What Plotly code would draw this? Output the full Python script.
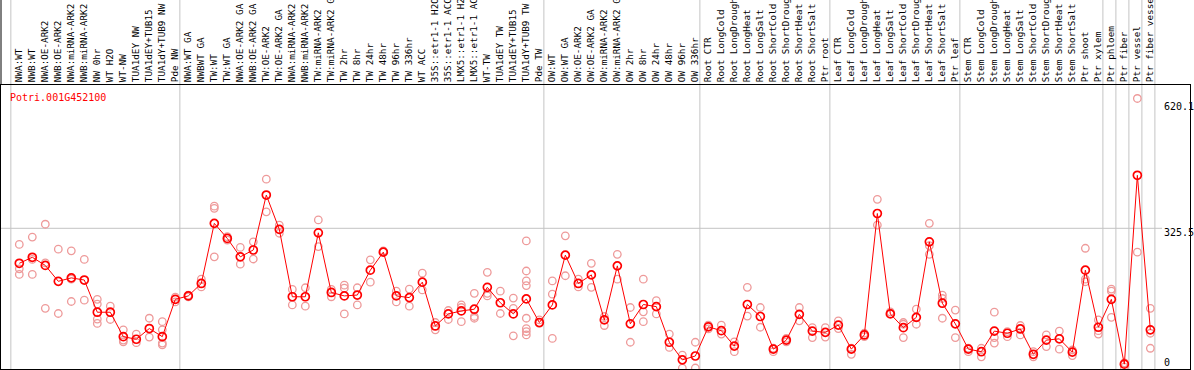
import plotly.graph_objects as go

gene = "Potri.001G452100"

labels = [
    "NWA:WT", "NWB:WT", "NWA:OE-ARK2", "NWB:OE-ARK2", "NWA:miRNA-ARK2", "NWB:miRNA-ARK2",
    "NW 0hr", "WT H2O", "WT-NW", "TUA1dEY NW", "TUA1dEY+TUB15", "TUA1dY+TUB9 NW", "Pde NW",
    "NWA:WT GA", "NWBWT GA", "TW:WT", "TW:WT GA", "NWA:OE-ARK2 GA", "NWB:OE-ARK2 GA",
    "TW:OE-ARK2", "TW:OE-ARK2 GA", "NWA:miRNA-ARK2", "NWB:miRNA-ARK2", "TW:miRNA-ARK2",
    "TW:miRNA-ARK2 GA", "TW 2hr", "TW 8hr", "TW 24hr", "TW 48hr", "TW 96hr", "TW 336hr",
    "WT ACC", "35S::etr1-1 H2O", "35S::etr1-1 ACC", "LMX5::etr1-1 H2O", "LMX5::etr1-1 ACC",
    "WT-TW", "TUA1dEY TW", "TUA1dEY+TUB15", "TUA1dY+TUB9 TW", "Pde TW",
    "OW:WT", "OW:WT GA", "OW:OE-ARK2", "OW:OE-ARK2 GA", "OW:miRNA-ARK2", "OW:miRNA-ARK2 GA",
    "OW 2hr", "OW 8hr", "OW 24hr", "OW 48hr", "OW 96hr", "OW 336hr",
    "Root CTR", "Root LongCold", "Root LongDrought", "Root LongHeat", "Root LongSalt",
    "Root ShortCold", "Root ShortDrought", "Root ShortHeat", "Root ShortSalt", "Ptr root",
    "Leaf CTR", "Leaf LongCold", "Leaf LongDrought", "Leaf LongHeat", "Leaf LongSalt",
    "Leaf ShortCold", "Leaf ShortDrought", "Leaf ShortHeat", "Leaf ShortSalt", "Ptr leaf",
    "Stem CTR", "Stem LongCold", "Stem LongDrought", "Stem LongHeat", "Stem LongSalt",
    "Stem ShortCold", "Stem ShortDrought", "Stem ShortHeat", "Stem ShortSalt", "Ptr shoot",
    "Ptr xylem", "Ptr phloem", "Ptr fiber", "Ptr vessel", "Ptr fiber vessel",
]

means = [
    244, 258, 239, 202, 210, 205, 130, 130, 73, 67, 92, 73, 160,
    168, 197, 337, 302, 259, 275, 403, 323, 166, 166, 315, 176, 168, 170,
    228, 270, 168, 164, 200, 98, 126, 133, 137, 188, 152, 126, 161, 106,
    147, 263, 197, 217, 112, 238, 103, 148, 143, 60, 19, 28,
    96, 87, 51, 148, 120, 44, 65, 125, 86, 83,
    100, 44, 77, 360, 126, 94, 118, 294, 151, 103,
    44, 38, 86, 81, 91, 32, 65, 68, 37, 228, 95,
    160, 9, 449, 89,
]

reps = [
    [288, 231, 218], [305, 253, 218], [335, 245, 139], [277, 127], [273, 207, 155],
    [253, 158], [160, 149, 114, 104], [144, 113], [89, 65, 61], [79, 59],
    [116, 72], [108, 89, 58, 54], [165, 154],
    [170, 166], [207, 189], [377, 372, 259], [306, 298], [281, 242], [294, 254],
    [440, 364], [333, 314], [183, 147], [187, 144], [345, 283], [183, 166],
    [193, 186, 126], [187, 147], [252, 200], [273, 271], [179, 154], [184, 144],
    [221, 182], [106, 89], [134, 113], [147, 141, 108], [174, 120, 116],
    [223, 174, 168], [179, 127], [163, 139, 75],
    [296, 226, 203, 192, 116, 92, 85, 77], [112, 104],
    [203, 172, 69], [308, 215], [207, 189], [244, 188], [120, 99], [265, 207],
    [141, 60], [207, 131, 108], [157, 126], [79, 48], [30, 0], [60, 0],
    [100, 91], [100, 79], [61, 38], [188, 121], [141, 95], [46, 38], [69, 61],
    [141, 110], [94, 71], [94, 72],
    [110, 92], [46, 32], [81, 73], [393, 333], [131, 127], [106, 102, 71],
    [137, 102], [337, 285, 265], [170, 162, 116], [135, 71],
    [46, 38], [46, 26], [130, 71, 58], [85, 73], [99, 77], [38, 26], [77, 50],
    [86, 44], [42, 29], [279, 207, 201], [112, 87, 79],
    [184, 179, 118], [2, 12], [628, 270], [139, 81, 46],
]

group_breaks = [0, 13, 41, 53, 63, 73, 84, 85, 86, 87, 88]
y_ticks = [620.1, 325.5, 0]
y_tick_text = ["620.1", "325.5", "0"]

x_idx = list(range(len(labels)))
rx, ry = [], []
for i, vals in enumerate(reps):
    for v in vals:
        rx.append(i)
        ry.append(v)

fig = go.Figure()
fig.add_trace(go.Scatter(
    x=rx, y=ry, mode="markers",
    marker=dict(symbol="circle-open", size=7.5, color="#ee9a9a", line=dict(width=1.3)),
    hoverinfo="skip", showlegend=False,
))
fig.add_trace(go.Scatter(
    x=x_idx, y=means, mode="lines+markers",
    line=dict(color="#ff0000", width=1),
    marker=dict(symbol="circle-open", size=8, color="#ff0000", line=dict(width=1.7)),
    showlegend=False,
))

H_PLOT = 284.0
top_paper = 1 + 85 / H_PLOT
shapes = []
for b in group_breaks:
    shapes.append(dict(type="line", xref="x", yref="paper", x0=b - 0.65, x1=b - 0.65,
                       y0=0, y1=top_paper, line=dict(color="#c4c4c4", width=1), layer="below"))
shapes.append(dict(type="line", xref="x", yref="y", x0=-1.5, x1=87.9,
                   y0=y_ticks[1], y1=y_ticks[1], line=dict(color="#c4c4c4", width=1), layer="below"))
shapes.append(dict(type="line", xref="paper", yref="paper", x0=0, x1=0,
                   y0=1, y1=top_paper, line=dict(color="black", width=1)))

annotations = [dict(
    text=gene, xref="paper", yref="paper", x=7 / 1189, y=(369 - 97) / H_PLOT,
    xanchor="left", yanchor="middle", showarrow=False,
    font=dict(family="DejaVu Sans Mono", size=10, color="#ff0000"),
)]
shifts = [-4.5, -4, 6]
for v, t, s in zip(y_ticks, y_tick_text, shifts):
    annotations.append(dict(
        text=t, xref="paper", yref="y", x=(1162 - 1) / 1189, y=v, yshift=s,
        xanchor="left", yanchor="middle", showarrow=False,
        font=dict(family="DejaVu Sans Mono", size=10, color="black"),
    ))

fig.update_layout(
    width=1194, height=370, autosize=False,
    margin=dict(l=1, r=4, t=85, b=1, pad=0),
    plot_bgcolor="white", paper_bgcolor="white",
    shapes=shapes, annotations=annotations,
    xaxis=dict(
        range=[-1.408, 90.05], side="top", tickmode="array", tickvals=x_idx, ticktext=labels,
        tickangle=-90, tickfont=dict(family="DejaVu Sans Mono", size=9.3, color="black"),
        showgrid=False, zeroline=False, ticks="", showline=True, mirror=True,
        linecolor="black", linewidth=1, automargin=False,
    ),
    yaxis=dict(
        range=[-2.3, 659.4], showticklabels=False, showgrid=False, zeroline=False,
        ticks="", showline=True, mirror=True, linecolor="black", linewidth=1, automargin=False,
    ),
)

fig.write_html(
    "out.html",
    config={"displayModeBar": False},
    post_script="document.body.style.margin='0';document.body.style.padding='0';",
)
